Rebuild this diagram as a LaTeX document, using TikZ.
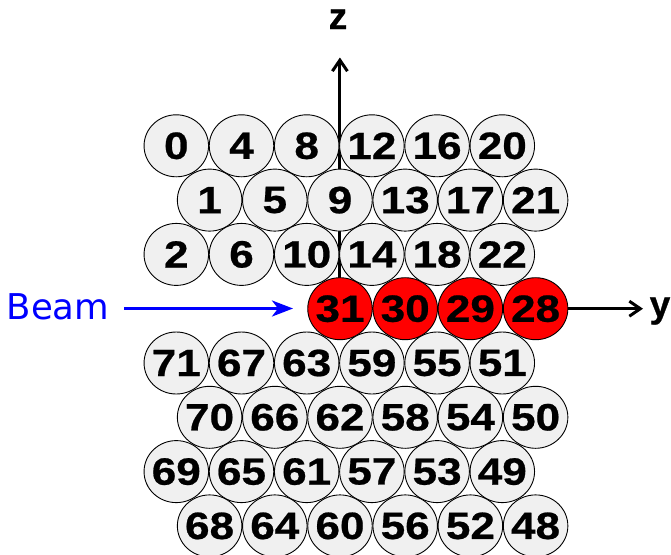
\documentclass[tikz,border=0pt]{standalone}
\usepackage{fontspec}
\setmainfont{Liberation Sans}
\newfontfamily\numfont[FakeStretch=1.16,FakeBold=0.6]{Liberation Sans}
\newfontfamily\axfont[FakeBold=0.8]{Liberation Sans}
\newfontfamily\beamfont{DejaVu Sans}
\usetikzlibrary{shapes.geometric,arrows.meta}
\definecolor{ballgray}{RGB}{240,240,240}
\newcommand{\ctr}[1]{\makebox[0pt]{#1}}
\begin{document}
\begin{tikzpicture}[x=1pt,y=-1pt,
  ball/.style={ellipse, draw=black, line width=0.9pt, fill=ballgray,
    minimum width=64.5pt, minimum height=62pt, inner sep=0pt,
    font=\numfont\bfseries\fontsize{38}{38}\selectfont},
  hot/.style={ball, fill=red},
  axis/.style={line width=3pt, -{Straight Barb[length=11pt,width=15pt,line width=3pt]}},
  axlabel/.style={inner sep=0pt, anchor=base, font=\axfont\bfseries\fontsize{37}{37}\selectfont}]
\useasboundingbox (0,0) rectangle (671,554);
% axes (behind the balls)
\coordinate (O) at (339.9,308.7);
\coordinate (ztip) at (339.9,57.5);
\coordinate (ytip) at (643,308.7);
\draw[axis] (O) -- (ztip);
\draw[axis] (O) -- (ytip);
\node[axlabel] (zlab) at (338,29) {z};
\node[axlabel, anchor=base west] (ylab) at (649.5,317) {y};
% upper rows
\foreach \lab [count=\i from 0] in {0,4,8,12,16,20}
  \node[ball] (b\lab) at (176.3+65.2*\i,145.8) {\ctr{\lab}};
\foreach \lab [count=\i from 0] in {1,5,9,13,17,21}
  \node[ball] (b\lab) at (209.6+65.2*\i,200.1) {\ctr{\lab}};
\foreach \lab [count=\i from 0] in {2,6,10,14,18,22}
  \node[ball] (b\lab) at (176.3+65.2*\i,254.4) {\ctr{\lab}};
% beam row
\foreach \lab [count=\i from 2] in {31,30,29,28}
  \node[hot] (b\lab) at (209.6+65.2*\i,308.7) {\ctr{\lab}};
% lower rows
\foreach \lab [count=\i from 0] in {71,67,63,59,55,51}
  \node[ball] (b\lab) at (176.3+65.2*\i,363.0) {\ctr{\lab}};
\foreach \lab [count=\i from 0] in {70,66,62,58,54,50}
  \node[ball] (b\lab) at (209.6+65.2*\i,417.3) {\ctr{\lab}};
\foreach \lab [count=\i from 0] in {69,65,61,57,53,49}
  \node[ball] (b\lab) at (176.3+65.2*\i,471.6) {\ctr{\lab}};
\foreach \lab [count=\i from 0] in {68,64,60,56,52,48}
  \node[ball] (b\lab) at (209.6+65.2*\i,525.9) {\ctr{\lab}};
% beam
\node[anchor=base west, inner sep=0pt, text=blue,
  font=\beamfont\fontsize{35.5}{35.5}\selectfont] (beam) at (6.5,319.5) {Beam};
\coordinate (bs) at (124,308.5);
\coordinate (be) at (293,308.5);
\draw[line width=3pt, blue, -{Stealth[length=21pt,width=16pt,inset=6pt]}] (bs) -- (be);
\end{tikzpicture}
\end{document}
